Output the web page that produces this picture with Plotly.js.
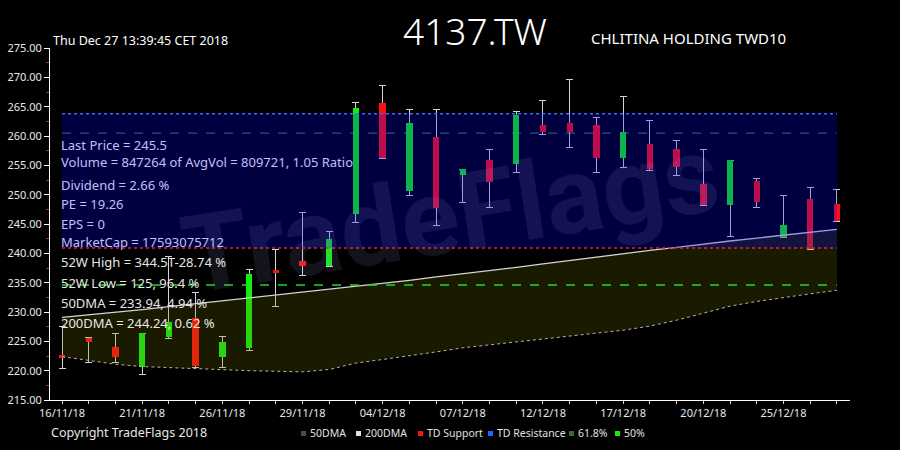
<!DOCTYPE html>
<html><head><meta charset="utf-8">
<script src="https://cdn.plot.ly/plotly-3.0.1.min.js"></script>
<style>html,body{margin:0;padding:0;background:#000;}#chart{width:900px;height:450px;}</style>
</head><body><div id="chart"></div>
<script>
const dates = ['16/11/18','19/11/18','20/11/18','21/11/18','22/11/18','23/11/18','26/11/18','27/11/18','28/11/18','29/11/18',
  '30/11/18','03/12/18','04/12/18','05/12/18','06/12/18','07/12/18','10/12/18','11/12/18','12/12/18','13/12/18',
  '14/12/18','17/12/18','18/12/18','19/12/18','20/12/18','21/12/18','24/12/18','25/12/18','26/12/18','27/12/18'];
const opens  = [222.6,225.6,224.1,220.6,225.8,228.9,222.4,223.8,237.1,238.7,
                237.8,246.7,265.7,250.7,259.8,253.3,255.9,255.2,261.8,262.3,
                261.8,256.2,258.7,257.8,251.8,248.2,252.3,242.8,249.2,248.4];
const highs  = [227.5,225.7,226.4,226.4,239.5,233.3,225.8,237.3,240.7,246.9,
                243.8,265.7,268.6,264.6,264.6,254.3,257.7,264.1,266.1,269.6,
                263.1,266.7,262.7,259.3,257.7,255.9,252.8,249.8,251.3,250.8];
const lows   = [220.4,221.4,221.4,219.4,225.5,220.5,220.5,223.4,230.9,236.3,
                237.7,245.3,256.2,249.8,244.8,248.7,247.8,253.7,260.2,258.1,
                253.7,254.7,254.2,253.2,248.2,242.8,247.8,242.7,240.6,245.4];
const closes = [222.2,224.9,222.3,226.4,228.3,220.8,224.9,236.4,236.7,237.9,
                242.4,264.7,256.3,262.3,247.8,254.3,252.2,263.6,260.6,260.6,
                256.2,260.7,254.4,254.7,248.3,255.9,248.7,244.8,240.7,245.5];
const dma50  = [222.4,221.7,221.1,220.7,220.5,220.3,220.2,220.0,219.9,219.8,
                220.2,221.3,221.9,222.5,223.2,223.9,224.4,224.9,225.3,225.8,
                226.3,226.9,227.6,228.6,229.8,231.0,231.8,232.5,233.1,233.7];
const dma200 = [229.1,229.5,230.0,230.4,230.9,231.4,231.8,232.3,232.8,233.3,
                233.8,234.3,234.9,235.4,236.0,236.5,237.1,237.6,238.2,238.8,
                239.4,240.0,240.5,241.0,241.6,242.1,242.6,243.1,243.6,244.1];
const tdSupport = 240.9;
const tdResistance = 263.8;
const fib618 = 260.5;
const fib50 = 234.6;
const symbol = '4137.TW';
const companyName = 'CHLITINA HOLDING TWD10';
const stampText = 'Thu Dec 27 13:39:45 CET 2018';
const copyrightText = 'Copyright TradeFlags 2018';
const watermarkText = 'TradeFlags';
const infoLines = ['Last Price = 245.5','Volume = 847264 of AvgVol = 809721, 1.05 Ratio','Dividend = 2.66 %','PE = 19.26',
  'EPS = 0','MarketCap = 17593075712','52W High = 344.5T-28.74 %','52W Low = 125, 96.4 %','50DMA = 233.94, 4.94 %','200DMA = 244.24, 0.62 %'];
const legendNames = ['50DMA','200DMA','TD Support','TD Resistance','61.8%','50%'];
const xTickLabels = dates.map((d, i) => (i % 3 === 0 ? d : ''));

// ---- layout helpers (pixel -> paper) ----
const L = 50, R = 850, T = 48, B = 400;
const px = x => (x - L) / (R - L);
const py = y => (B - y) / (B - T);
const FONT = 'Noto Sans, DejaVu Sans, sans-serif';

const bodyBase = opens.map((o, i) => Math.min(o, closes[i]));
const bodySize = opens.map((o, i) => Math.max(Math.abs(closes[i] - o), 0.5));
const bodyColor = opens.map((o, i) => (closes[i] >= o ? '#12f012' : '#ff1010'));

const traces = [
  { type: 'scatter', mode: 'lines', x: dates, y: dma50, name: '50DMA',
    line: { color: '#b4b4a8', width: 1, dash: 'dot' }, hoverinfo: 'skip' },
  { type: 'scatter', mode: 'lines', x: dates, y: dma200, name: '200DMA', fill: 'tonexty',
    fillcolor: 'rgba(120,120,0,0.22)', line: { color: '#d4d4d4', width: 1.3 }, hoverinfo: 'skip' },
  { type: 'bar', x: dates, y: highs, width: 0.24, marker: { color: 'rgba(0,0,0,0)', line: { width: 0 } },
    error_y: { type: 'data', symmetric: false, array: highs.map(() => 0),
               arrayminus: highs.map((h, i) => h - lows[i]), color: '#d4d4dc', thickness: 1, width: 3.5 },
    hoverinfo: 'skip' },
  { type: 'bar', x: dates, base: bodyBase, y: bodySize, width: 0.24,
    marker: { color: bodyColor, line: { width: 0 } } }
];

const shapes = [
  { type: 'line', xref: 'x', yref: 'y', x0: dates[0], x1: dates[dates.length - 1], y0: fib618, y1: fib618,
    line: { color: '#3f6e44', width: 1.3, dash: 'dash' }, layer: 'below' },
  { type: 'rect', xref: 'x', yref: 'y', x0: dates[0], x1: dates[dates.length - 1], y0: tdSupport, y1: tdResistance,
    fillcolor: 'rgba(0,0,255,0.25)', line: { width: 0 }, layer: 'above' },
  { type: 'line', xref: 'x', yref: 'y', x0: dates[0], x1: dates[dates.length - 1], y0: tdSupport, y1: tdSupport,
    line: { color: '#e0203c', width: 1.5, dash: 'dot' }, layer: 'above' },
  { type: 'line', xref: 'x', yref: 'y', x0: dates[0], x1: dates[dates.length - 1], y0: tdResistance, y1: tdResistance,
    line: { color: '#3a6cff', width: 1.5, dash: 'dot' }, layer: 'above' },
  { type: 'line', xref: 'x', yref: 'y', x0: dates[0], x1: dates[dates.length - 1], y0: fib50, y1: fib50,
    line: { color: '#22d822', width: 1.3, dash: 'dash' }, layer: 'above' }
];

const annotations = [
  { text: watermarkText, x: px(450), y: py(215), xref: 'paper', yref: 'paper', showarrow: false, textangle: -9,
    font: { family: 'Roboto, sans-serif', size: 108, weight: 'bold', color: 'rgba(150,150,215,0.13)' } },
  { text: symbol, x: px(475), y: py(31), xref: 'paper', yref: 'paper', showarrow: false, xanchor: 'center', yanchor: 'middle',
    font: { family: FONT, size: 37, weight: 300, color: '#ffffff' } },
  { text: companyName, x: px(589), y: py(38), xref: 'paper', yref: 'paper', showarrow: false, xanchor: 'left', yanchor: 'middle',
    font: { family: FONT, size: 15, color: '#ffffff' } },
  { text: stampText, x: px(51), y: py(40), xref: 'paper', yref: 'paper', showarrow: false, xanchor: 'left', yanchor: 'middle',
    font: { family: FONT, size: 12.5, color: '#ffffff' } },
  { text: copyrightText, x: px(49), y: py(432), xref: 'paper', yref: 'paper', showarrow: false, xanchor: 'left', yanchor: 'middle',
    font: { family: FONT, size: 12.5, color: '#e8e8e8' } }
];

const infoY = [145, 161.5, 184.5, 204, 223.5, 241.5, 262, 282.5, 302.5, 322.5];
infoLines.forEach((t, i) => {
  const yPix = infoY[i];
  annotations.push({ text: t, x: px(59), y: py(yPix), xref: 'paper', yref: 'paper', showarrow: false,
    xanchor: 'left', yanchor: 'middle',
    font: { family: FONT, size: 13, color: i < 6 ? '#c0c0f2' : '#e6e6e6' } });
});

const legendColors = ['#3f5050', '#e0e0e0', '#ff1010', '#1a6aff', '#3a6a3a', '#10f010'];
const legendSq = [301, 356, 418, 488, 569, 615];
const legendTx = [308, 363, 425, 495, 576, 622];
legendNames.forEach((n, i) => {
  shapes.push({ type: 'rect', xref: 'paper', yref: 'paper', x0: px(legendSq[i]), x1: px(legendSq[i] + 5),
    y0: py(436), y1: py(431), fillcolor: legendColors[i], line: { width: 0 } });
  annotations.push({ text: n, x: px(legendTx[i]), y: py(433), xref: 'paper', yref: 'paper', showarrow: false,
    xanchor: 'left', yanchor: 'middle', font: { family: FONT, size: 10.5, color: '#e0e0e0' } });
});

const layout = {
  width: 900, height: 450,
  paper_bgcolor: '#000000', plot_bgcolor: '#000000',
  margin: { l: L, r: 900 - R, t: T, b: 450 - B, pad: 0 },
  showlegend: false, barmode: 'overlay', bargap: 0,
  xaxis: { type: 'category', categoryorder: 'array', categoryarray: dates, range: [-0.45, 29.49],
    tickmode: 'array', tickvals: dates, ticktext: xTickLabels, ticks: 'outside', ticklen: 3, tickcolor: '#dddddd',
    showline: true, linecolor: '#ffffff', linewidth: 1, showgrid: false, zeroline: false, fixedrange: true,
    tickfont: { family: FONT, size: 11, color: '#e8e8e8' } },
  yaxis: { range: [215, 275], tick0: 215, dtick: 5, tickformat: '.2f', ticks: 'outside', ticklen: 5, tickcolor: '#ffffff',
    showline: true, linecolor: '#ffffff', linewidth: 1, showgrid: false, zeroline: false, fixedrange: true,
    tickfont: { family: FONT, size: 11, color: '#e8e8e8' },
    minor: { ticks: 'outside', ticklen: 3, tickcolor: '#d02020', dtick: 2.5, showgrid: false } },
  shapes: shapes,
  annotations: annotations
};

Plotly.newPlot('chart', traces, layout, { staticPlot: true, displayModeBar: false });
</script></body></html>
